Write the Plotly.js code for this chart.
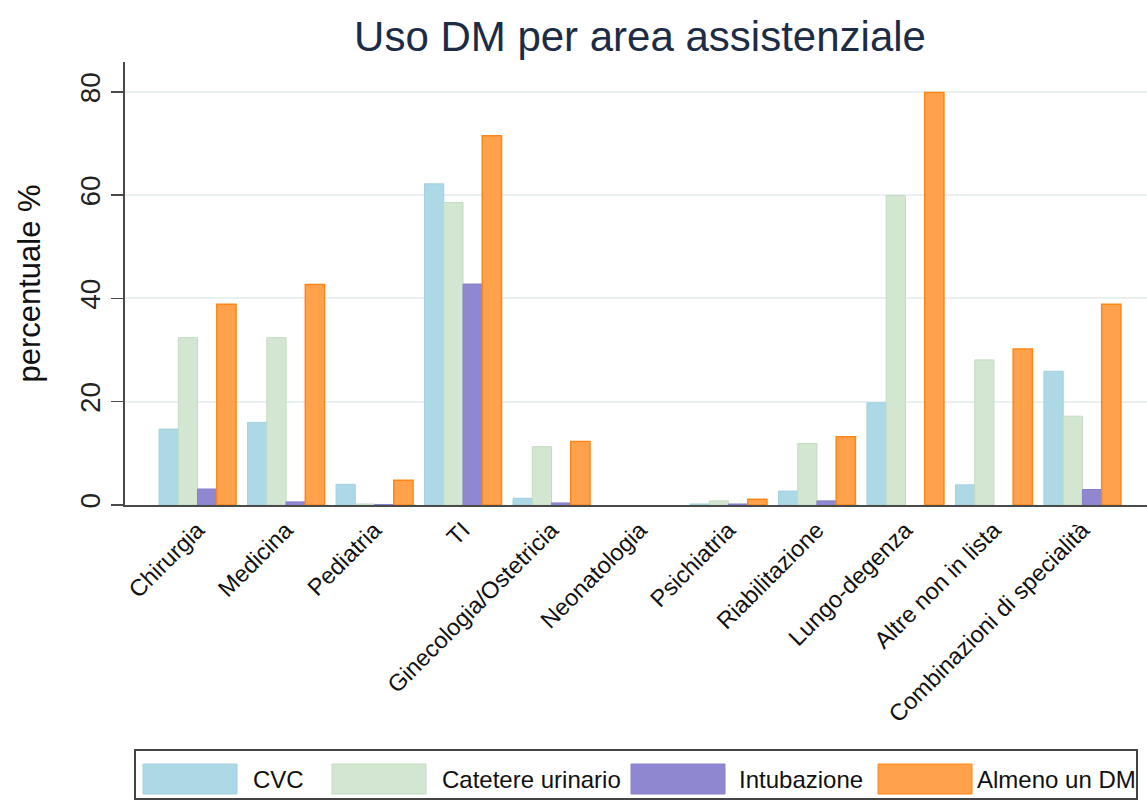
<!DOCTYPE html>
<html>
<head>
<meta charset="utf-8">
<script src="https://cdn.plot.ly/plotly-3.0.1.min.js"></script>
<style>html,body{margin:0;padding:0;background:#fff;}#chart{width:1147px;height:801px;}</style>
</head>
<body>
<div id="chart"></div>
<script>
const categories = ["Chirurgia","Medicina","Pediatria","TI","Ginecologia/Ostetricia","Neonatologia","Psichiatria","Riabilitazione","Lungo-degenza","Altre non in lista","Combinazioni di specialità"];
const seriesNames = ["CVC","Catetere urinario","Intubazione","Almeno un DM"];
const cvc        = [14.7, 16.0, 4.0, 62.2, 1.3, 0, 0.2, 2.7, 19.8, 3.9, 25.9];
const catetere   = [32.4, 32.4, 0.2, 58.6, 11.3, 0, 0.8, 11.9, 59.9, 28.1, 17.2];
const intubazione= [3.1, 0.6, 0.1, 42.8, 0.4, 0, 0.2, 0.8, 0, 0, 3.0];
const almeno     = [38.9, 42.7, 4.8, 71.5, 12.3, 0, 1.1, 13.2, 79.9, 30.2, 38.9];
const yTicks = [0, 20, 40, 60, 80];

const fills = ["#add8e6","#d2e6d1","#8f88d1","#ffa24b"];
const lines = ["#a2d0df","#c3dcc1","#8780cc","#ff8616"];
const values = [cvc, catetere, intubazione, almeno];

const traces = values.map((v,i)=>({
  type:'bar', name:seriesNames[i], x:categories, y:v,
  marker:{color:fills[i], line:{color:lines[i], width: v.map(d => d===0 ? 0 : (i===3?1.5:1))}},
  showlegend:false, hoverinfo:'x+y+name'
}));

// layout geometry (pixels)
const L=125, R=0, T=62, B=296, W=1147, H=801;
const pw = W-L-R, ph = H-T-B;
const px = p => (p-L)/pw;
const py = p => (H-B-p)/ph;

const font = "Liberation Sans, Arial, sans-serif";
const shapes = [];
const annotations = [];

// legend box
shapes.push({type:'rect', xref:'paper', yref:'paper', x0:px(135), x1:px(1137), y0:py(799), y1:py(750),
  line:{color:'#444', width:2}, fillcolor:'#fff', layer:'above'});
const swX = [143, 332, 631, 878];
const txX = [251, 440, 737, 975];
seriesNames.forEach((n,i)=>{
  shapes.push({type:'rect', xref:'paper', yref:'paper', x0:px(swX[i]), x1:px(swX[i]+94), y0:py(794), y1:py(764),
    line:{color:lines[i], width:1}, fillcolor:fills[i], layer:'above'});
  annotations.push({xref:'paper', yref:'paper', x:px(txX[i]), y:py(780), xanchor:'left', yanchor:'middle',
    text:n, showarrow:false, font:{family:font, size:24, color:'#111'}});
});

const layout = {
  width:W, height:H,
  margin:{l:L, r:R, t:T, b:B, pad:0},
  paper_bgcolor:'#fff', plot_bgcolor:'#fff',
  font:{family:font, color:'#111'},
  title:{text:'Uso DM per area assistenziale', font:{family:font, size:42, color:'#1c2c45'},
    xref:'container', yref:'container', x:640/W, xanchor:'center', y:1-36/H, yanchor:'middle'},
  barmode:'group', bargap:0.13, bargroupgap:0,
  xaxis:{type:'category', range:[-0.82, 10.73], tickangle:-45, tickfont:{family:font, size:23.5, color:'#111'},
    showline:true, linecolor:'#4a4a4a', linewidth:2, showgrid:false, ticks:'', automargin:false, fixedrange:true},
  yaxis:{range:[0, 85.8], tickvals:yTicks, ticktext:yTicks.map(String), tickangle:-90,
    tickfont:{family:font, size:28, color:'#222'}, ticks:'outside', ticklen:12, tickwidth:1.5, tickcolor:'#4a4a4a',
    showline:true, linecolor:'#4a4a4a', linewidth:2, showgrid:true, gridcolor:'#e8f0f2', gridwidth:2,
    zeroline:false, automargin:false,
    title:{text:'percentuale %', font:{family:font, size:31, color:'#111'}, standoff:25}},
  shapes:shapes, annotations:annotations
};

Plotly.newPlot('chart', traces, layout, {displayModeBar:false, staticPlot:true});
</script>
</body>
</html>
